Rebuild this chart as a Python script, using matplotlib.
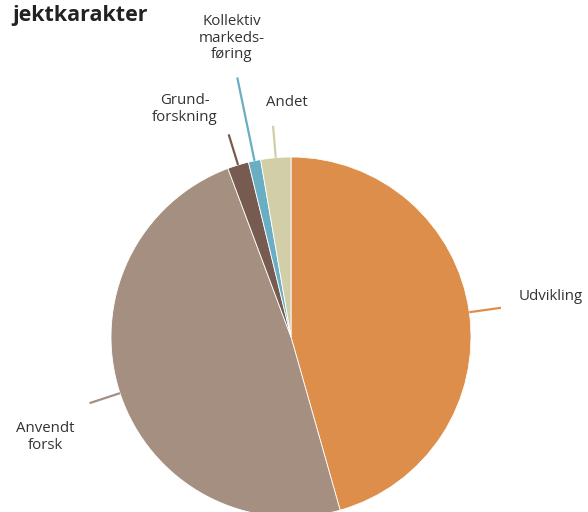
import numpy as np
import matplotlib
matplotlib.use("Agg")
import matplotlib.pyplot as plt

plt.rcParams['font.family'] = ['Open Sans', 'DejaVu Sans']

# data (shares in %, clockwise from 12 o'clock)
categories = ['Udvikling', 'Anvendt\nforsk', 'Grund-\nforskning', 'Kollektiv\nmarkeds-\nføring', 'Andet']
shares = [45.6, 48.7, 1.9, 1.1, 2.7]
colors = ['#DD8E4A', '#A48F80', '#785B50', '#6AAEC4', '#D1CEA8']

# layout (pixel coords, y down)
W, H = 588, 512
cx, cy, R = 291, 337, 180
line_out = [212, 212, 212, 265, 212]
label_pos = [(519, 297, 'left'), (45, 437, 'center'), (185, 109, 'center'),
             (232, 38, 'center'), (287, 102, 'center')]

fig = plt.figure(figsize=(W / 100, H / 100), dpi=100)
ax = fig.add_axes([0, 0, 1, 1])

wedges, _ = ax.pie(shares, colors=colors, startangle=90, counterclock=False,
                   center=(cx, H - cy), radius=R,
                   wedgeprops=dict(edgecolor='white', linewidth=0.6))

# pie() resets the limits, so set them afterwards
ax.set_xlim(0, W)
ax.set_ylim(0, H)
ax.set_aspect('equal')
ax.axis('off')

# leader lines at each wedge's mid-angle
for w, r2, col in zip(wedges, line_out, colors):
    mid = np.deg2rad((w.theta1 + w.theta2) / 2)
    x1, y1 = cx + R * np.cos(mid), (H - cy) + R * np.sin(mid)
    x2, y2 = cx + r2 * np.cos(mid), (H - cy) + r2 * np.sin(mid)
    ax.plot([x1, x2], [y1, y2], color=col, linewidth=1.6, solid_capstyle='butt')

for lab, (x, y, ha) in zip(categories, label_pos):
    ax.text(x, H - y, lab, ha=ha, va='center', fontsize=10.8, color='#333333',
            linespacing=1.15, multialignment='center')

ax.text(12, H - 16, 'jektkarakter', ha='left', va='center', fontsize=15.5,
        fontweight='bold', color='#222222')

fig.savefig('out.png', dpi=100)
